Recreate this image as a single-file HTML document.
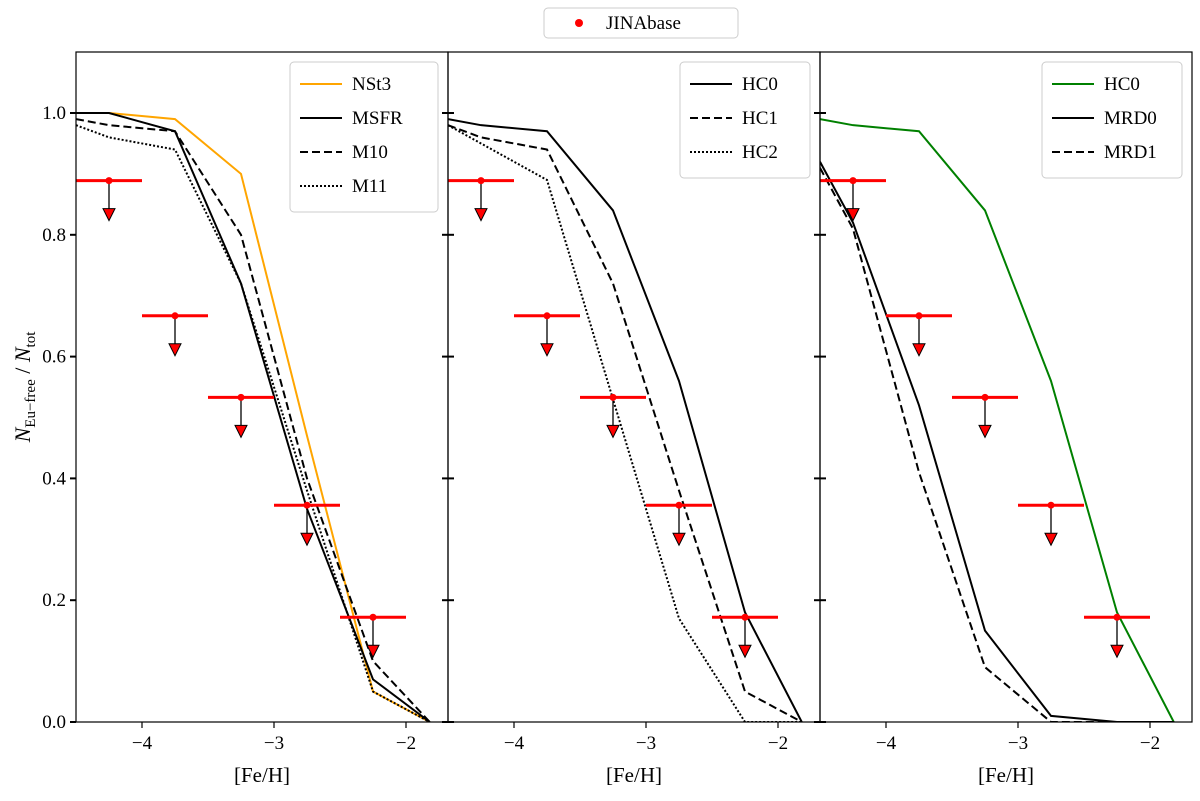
<!DOCTYPE html>
<html><head><meta charset="utf-8"><style>
body{margin:0;background:#fff}
svg{display:block;font-family:"Liberation Serif","DejaVu Serif",serif}
</style></head><body>
<svg id="c" width="1200" height="801" viewBox="0 0 1200 801"></svg>
<script>
const binsX=[-4.25,-3.75,-3.25,-2.75,-2.25];
const jinaY=[0.889,0.667,0.533,0.356,0.172];
const modelX=[-4.5,-4.25,-3.75,-3.25,-2.75,-2.25,-1.82];
const nst3=[1.0,1.0,0.99,0.9,0.47,0.05,0];
const msfr=[1.0,1.0,0.97,0.72,0.35,0.07,0];
const m10=[0.99,0.98,0.97,0.80,0.40,0.10,0];
const m11=[0.98,0.96,0.94,0.72,0.38,0.05,0];
const hc0=[0.99,0.98,0.97,0.84,0.56,0.18,0];
const hc1=[0.98,0.96,0.94,0.72,0.38,0.05,0];
const hc2=[0.98,0.95,0.89,0.53,0.17,0,0];
const mrd0=[0.92,0.82,0.52,0.15,0.01,0,0];
const mrd1=[0.91,0.81,0.41,0.09,0.0,0,0];
const xTicks=[-4,-3,-2];
const yTicks=[0,0.2,0.4,0.6,0.8,1.0];
const yTickLabels=["0.0","0.2","0.4","0.6","0.8","1.0"];

const NS="http://www.w3.org/2000/svg";
const svg=document.getElementById('c');
function el(t,a,p){const e=document.createElementNS(NS,t);for(const k in a)e.setAttribute(k,a[k]);(p||svg).appendChild(e);return e;}
const panelsL=[76,448,820], PW=372, topY=52, bot=722;
const xmin=-4.5, pxPerUnit=132;
const ys=v=>bot-v*609;

const panels=[
 [{y:nst3,c:"#ffa500",d:"",n:"NSt3"},{y:msfr,c:"#000",d:"",n:"MSFR"},{y:m10,c:"#000",d:"8,4",n:"M10"},{y:m11,c:"#000",d:"2,2",n:"M11"}],
 [{y:hc0,c:"#000",d:"",n:"HC0"},{y:hc1,c:"#000",d:"8,4",n:"HC1"},{y:hc2,c:"#000",d:"2,2",n:"HC2"}],
 [{y:hc0,c:"#008000",d:"",n:"HC0"},{y:mrd0,c:"#000",d:"",n:"MRD0"},{y:mrd1,c:"#000",d:"8,4",n:"MRD1"}]
];
panels.forEach((series,pi)=>{
  const L=panelsL[pi];
  const xs=v=>L+(v-xmin)*pxPerUnit;
  const g=el('g',{});
  
  
  const clipId='cl'+pi;
  const cp=el('clipPath',{id:clipId},g);el('rect',{x:L,y:topY,width:PW,height:bot-topY},cp);
  const lg=el('g',{'clip-path':'url(#'+clipId+')'},g);
  series.forEach(s=>{
    const p=el('polyline',{points:modelX.map((x,i)=>xs(x)+','+ys(s.y[i])).join(' '),fill:'none',stroke:s.c,'stroke-width':2,'stroke-dasharray':s.d},lg);
    
    
  });
  binsX.forEach((x,i)=>{
    const cx=xs(x), cy=ys(jinaY[i]);
    const e=el('line',{x1:xs(x-0.25),x2:xs(x+0.25),y1:cy,y2:cy,stroke:'#f00','stroke-width':3},lg);
    
    
    el('line',{x1:cx,x2:cx,y1:cy,y2:cy+28,stroke:'#000','stroke-width':1.3},lg);
    const t=el('polygon',{points:(cx-6)+','+(cy+28)+' '+(cx+6)+','+(cy+28)+' '+cx+','+(cy+40),fill:'#f00',stroke:'#000','stroke-width':1},lg);
    
    
    const d=el('circle',{cx:cx,cy:cy,r:3.5,fill:'#f00'},lg);
    
    
  });
  el('rect',{x:L,y:topY,width:PW,height:bot-topY,fill:'none',stroke:'#000','stroke-width':1.2},g);
  xTicks.forEach(v=>{
    const x=xs(v);
    el('line',{x1:x,x2:x,y1:bot,y2:bot+6,stroke:'#000','stroke-width':1.2},g);
    const t=el('text',{x:x,y:bot+27,'font-size':19,'text-anchor':'middle'},g);t.textContent='\u2212'+Math.abs(v);
    
    
  });
  yTicks.forEach((v,i)=>{
    const y=ys(v);
    el('line',{x1:L-6,x2:pi==0?L:L+6,y1:y,y2:y,stroke:'#000','stroke-width':2},g);
    if(pi==0){const t=el('text',{x:L-10,y:y+6,'font-size':19,'text-anchor':'end'},g);t.textContent=yTickLabels[i];
      
      }
  });
  const xl=el('text',{x:L+PW/2,y:bot+60,'font-size':21,'text-anchor':'middle'},g);xl.textContent='[Fe/H]';
  
  
  const lw=pi==0?148:(pi==1?130:140);
  const lx=L+PW-lw-10, ly=62;
  const lgd=el('g',{},g);
  
  
  el('rect',{x:lx,y:ly,width:lw,height:series.length*34+14,rx:4,fill:'#fff',stroke:'#ccc'},lgd);
  series.forEach((s,i)=>{
    const yy=ly+22+i*34;
    el('line',{x1:lx+10,x2:lx+52,y1:yy,y2:yy,stroke:s.c,'stroke-width':2,'stroke-dasharray':s.d},lgd);
    const t=el('text',{x:lx+62,y:yy+6,'font-size':19},lgd);t.textContent=s.n;
    
    
  });
});
const yt=el('text',{transform:'translate(30,387) rotate(-90)','font-size':22,'text-anchor':'middle','font-style':'italic'});
yt.innerHTML='N<tspan font-size="15" dy="5" font-style="normal">Eu\u2212free</tspan><tspan dy="-5" font-style="normal"> / </tspan>N<tspan font-size="15" dy="5" font-style="normal">tot</tspan>';


const tl=el('g',{});


el('rect',{x:544,y:8,width:194,height:30,rx:4,fill:'#fff',stroke:'#ccc'},tl);
el('circle',{cx:579,cy:23,r:4,fill:'#f00'},tl);
const tt=el('text',{x:606,y:29,'font-size':19},tl);tt.textContent='JINAbase';


</script>
</body></html>
